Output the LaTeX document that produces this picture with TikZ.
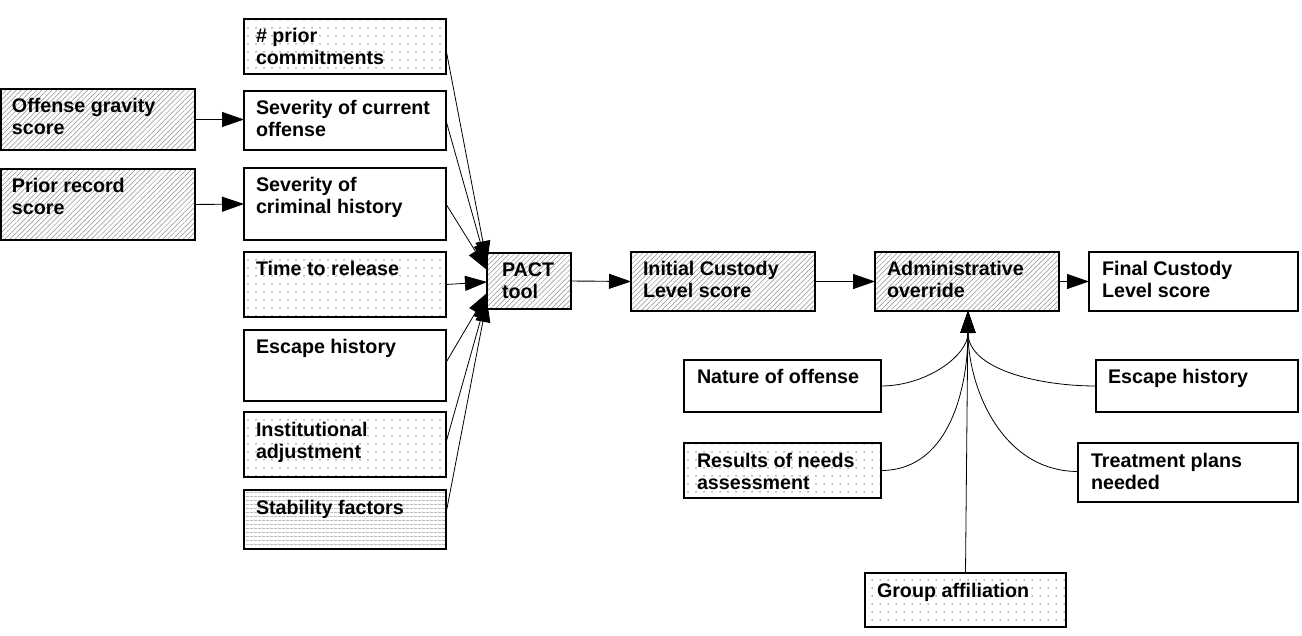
\documentclass[tikz,border=0pt]{standalone}
\usepackage{fontspec}
\setmainfont{Liberation Sans}
\usetikzlibrary{arrows.meta,patterns.meta,calc}
\newcommand\twol[2]{\vtop{\baselineskip=22pt\hbox{#1}\hbox{#2}}}
\tikzset{
  box/.style={draw=black,line width=1.2pt,inner sep=0pt,outer sep=0pt,rectangle},
  plainbox/.style={fill=white},
  hatchbox/.style={pattern={Lines[angle=45,distance=3.6pt,line width=0.5pt]},pattern color=black!45},
  dotbox/.style={pattern={Dots[radius=0.75pt,distance=8pt]},pattern color=black!60},
  hlinebox/.style={pattern={Lines[angle=0,distance=4pt,line width=0.6pt]},pattern color=black!40},
  txt/.style={inner sep=0pt,outer sep=0pt,font=\fontsize{19.7}{22}\selectfont\bfseries},
  arr/.style={-{Triangle[length=22pt,width=15pt]},line width=0.9pt},
  fanarr/.style={-{Triangle[length=22pt,width=15pt]},line width=0.8pt},
  curv/.style={-{Triangle[length=22pt,width=15pt]},line width=0.8pt},
}
\newcommand\bx[8]{%
  \node[box,#6,minimum width={(#4-#2)*1pt},minimum height={(#5-#3)*1pt},anchor=north west] (#1) at (#2,#3) {};
  \node[txt,anchor=base west] (#1-t) at ({#2+#8},{#3+24}) {#7};}
\begin{document}
\begin{tikzpicture}[x=1pt,y=-1pt]
\useasboundingbox[fill=white] (0,0) rectangle (1302,636);
\bx{og}{1}{89}{195}{150}{hatchbox}{\twol{Offense gravity}{score}}{11}
\bx{pr}{1}{169}{195}{240}{hatchbox}{\twol{Prior record}{score}}{11}
\bx{pc}{244}{19}{446}{74}{dotbox}{\twol{\# prior}{commitments}}{12}
\bx{sc}{244}{91}{446}{150}{plainbox}{\twol{Severity of current}{offense}}{12}
\bx{sh}{244}{168}{446}{240}{plainbox}{\twol{Severity of}{criminal history}}{12}
\bx{tr}{244}{252}{446}{317}{dotbox}{Time to release}{12}
\bx{eh}{244}{330}{446}{401}{plainbox}{Escape history}{12}
\bx{ia}{244}{412}{446}{477}{dotbox}{\twol{Institutional}{adjustment}}{12}
\bx{sf}{244}{490}{446}{549}{hlinebox}{Stability factors}{12}
\bx{pact}{487}{253}{571}{309}{hatchbox}{\twol{PACT}{tool}}{15}
\bx{icl}{631}{252}{815}{311}{hatchbox}{\twol{Initial Custody}{Level score}}{12}
\bx{ao}{875}{252}{1059}{311}{hatchbox}{\twol{Administrative}{override}}{12}
\bx{fcl}{1089}{252}{1298}{311}{plainbox}{\twol{Final Custody}{Level score}}{13}
\bx{no}{684}{360}{881}{412}{plainbox}{Nature of offense}{13}
\bx{rn}{684}{443}{881}{498}{dotbox}{\twol{Results of needs}{assessment}}{13}
\bx{eh2}{1096}{360}{1298}{412}{plainbox}{Escape history}{12}
\bx{tp}{1078}{443}{1298}{502}{plainbox}{\twol{Treatment plans}{needed}}{13}
\bx{ga}{865}{573}{1066}{627}{dotbox}{Group affiliation}{12}

\draw[arr] (og.east) -- (sc.west |- og.east);
\draw[arr] (pr.east) -- (sh.west);
\draw[fanarr] ([yshift=-3pt]pc.east) -- ([yshift=18pt]pact.west);
\draw[fanarr] (sc.east) -- ([yshift=15pt]pact.west);
\draw[fanarr] (sh.east) -- ([yshift=11pt]pact.west);
\draw[fanarr] (tr.east) -- ([yshift=-1pt]pact.west);
\draw[fanarr] ([yshift=3pt]eh.east) -- ([yshift=-12pt]pact.west);
\draw[fanarr] ([yshift=2pt]ia.east) -- ([yshift=-16pt]pact.west);
\draw[fanarr] ([yshift=6pt]sf.east) -- ([yshift=-19pt]pact.west);
\draw[arr] (pact.east) -- (icl.west);
\draw[arr] (icl.east) -- (ao.west);
\draw[arr] (ao.east) -- (fcl.west);

\draw[curv] (no.east) to[out=0,in=-90] ([xshift=1pt]ao.south);
\draw[curv] (rn.east) to[out=0,in=-90] ([xshift=1pt]ao.south);
\draw[curv] (eh2.west) to[out=180,in=-90] ([xshift=1pt]ao.south);
\draw[curv] ([yshift=1pt]tp.west) to[out=180,in=-90] ([xshift=1pt]ao.south);
\draw[curv] (ga.north) -- ([xshift=1pt]ao.south);
\end{tikzpicture}
\end{document}
